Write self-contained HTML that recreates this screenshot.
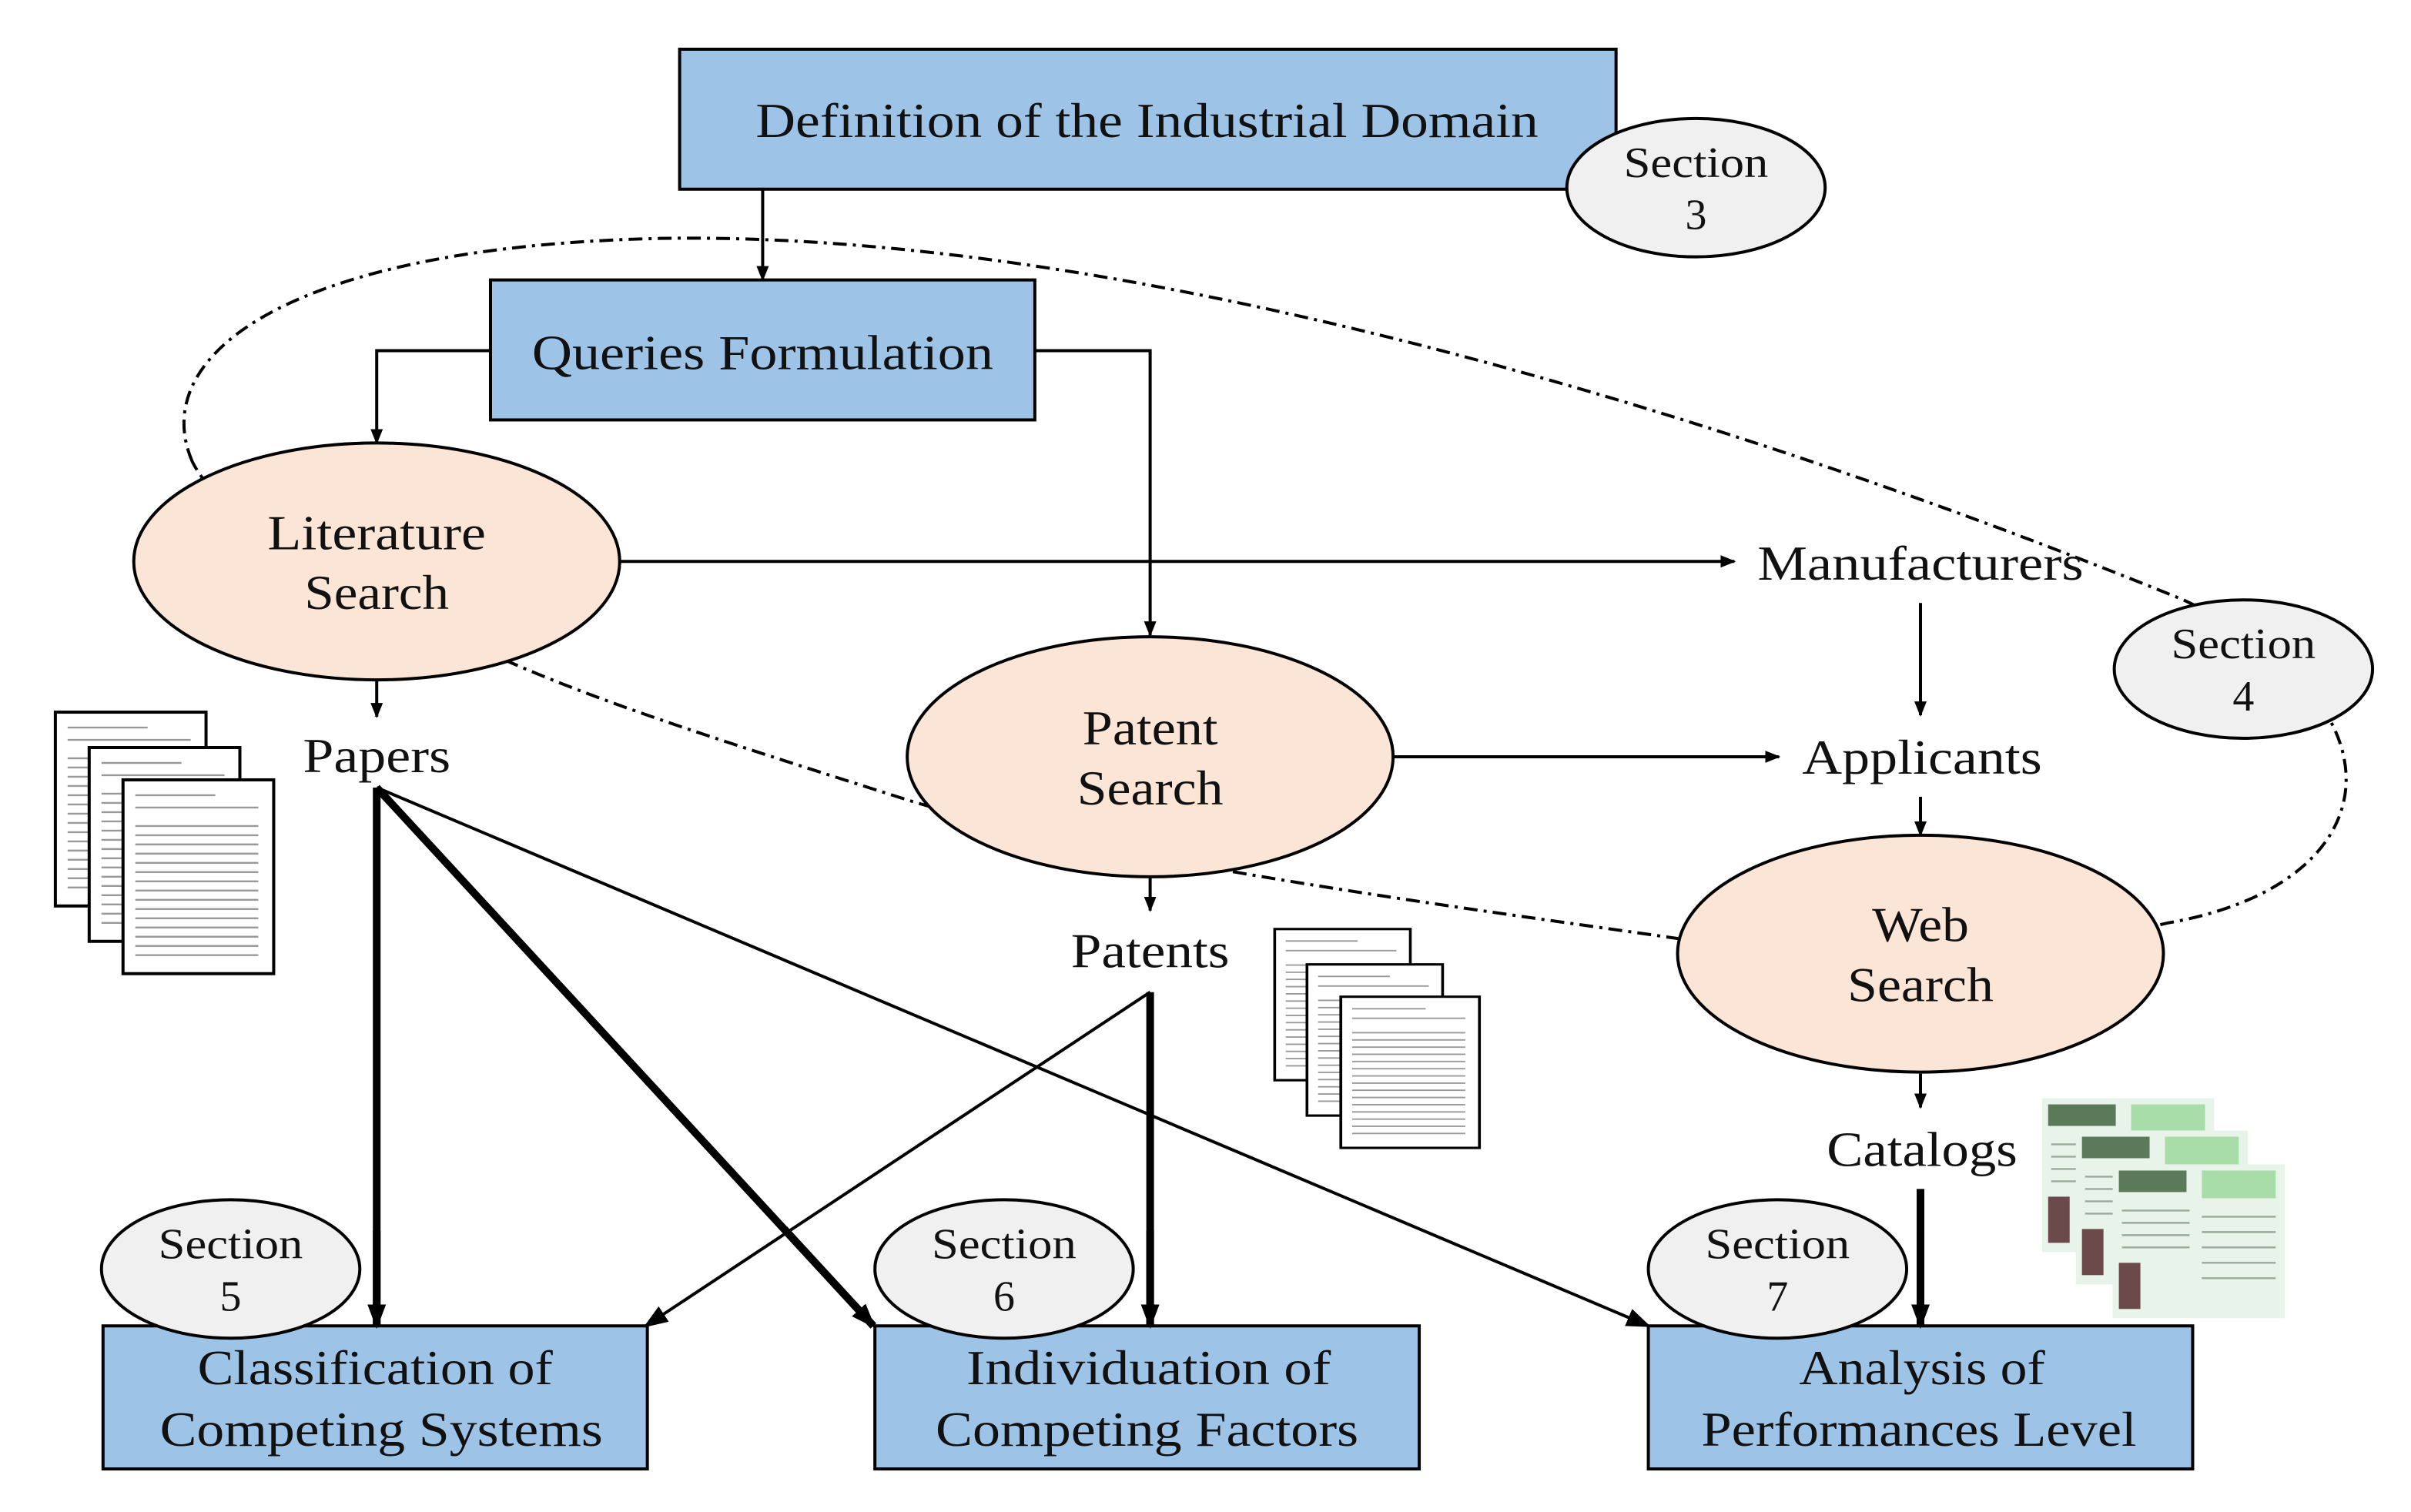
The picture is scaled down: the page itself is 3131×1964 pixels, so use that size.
<!DOCTYPE html>
<html><head><meta charset="utf-8"><style>html,body{margin:0;padding:0;background:#fff}svg{display:block}</style></head>
<body>
<svg width="3131" height="1964" viewBox="0 0 1568 983" preserveAspectRatio="none" xmlns="http://www.w3.org/2000/svg" font-family="'Liberation Serif', serif" fill="#111">
<defs>
<marker id="a" markerWidth="10" markerHeight="10" refX="9" refY="5" orient="auto" markerUnits="userSpaceOnUse" viewBox="0 0 10 10"><path d="M0,1 L10,5 L0,9 z" fill="#000"/></marker>
<marker id="b" markerWidth="16" markerHeight="16" refX="14" refY="8" orient="auto" markerUnits="userSpaceOnUse" viewBox="0 0 16 16"><path d="M0,2 L16,8 L0,14 z" fill="#000"/></marker>
<g id="page"><rect width="98" height="126" fill="#fff" stroke="#000" stroke-width="2"/><g stroke="#999" stroke-width="1.2"><line x1="8" y1="10" x2="60" y2="10"/><line x1="8" y1="18" x2="88" y2="18"/><line x1="8" y1="30" x2="88" y2="30"/><line x1="8" y1="36" x2="88" y2="36"/><line x1="8" y1="42" x2="88" y2="42"/><line x1="8" y1="48" x2="88" y2="48"/><line x1="8" y1="54" x2="88" y2="54"/><line x1="8" y1="60" x2="88" y2="60"/><line x1="8" y1="66" x2="88" y2="66"/><line x1="8" y1="72" x2="88" y2="72"/><line x1="8" y1="78" x2="88" y2="78"/><line x1="8" y1="84" x2="88" y2="84"/><line x1="8" y1="90" x2="88" y2="90"/><line x1="8" y1="96" x2="88" y2="96"/><line x1="8" y1="102" x2="88" y2="102"/><line x1="8" y1="108" x2="88" y2="108"/><line x1="8" y1="114" x2="88" y2="114"/></g></g>
<g id="cat"><rect width="112" height="100" fill="#e8f4ea"/><rect x="4" y="4" width="44" height="14" fill="#5a7a5a"/><rect x="58" y="4" width="48" height="18" fill="#a8dca8"/><g stroke="#9a9" stroke-width="1.2"><line x1="6" y1="30" x2="50" y2="30"/><line x1="6" y1="38" x2="50" y2="38"/><line x1="6" y1="46" x2="50" y2="46"/><line x1="6" y1="54" x2="50" y2="54"/><line x1="58" y1="34" x2="106" y2="34"/><line x1="58" y1="44" x2="106" y2="44"/><line x1="58" y1="54" x2="106" y2="54"/><line x1="58" y1="64" x2="106" y2="64"/><line x1="58" y1="74" x2="106" y2="74"/></g><rect x="4" y="64" width="14" height="30" fill="#6a4a4a"/></g>
</defs>

<path d="M125,300 C95,230 190,160 430,155 C720,150 1100,260 1420,390 C1570,460 1555,575 1410,600 C1300,625 1160,622 1090,610 C950,590 720,560 590,520 C480,485 400,460 335,432 C260,400 150,350 125,300 Z" fill="none" stroke="#000" stroke-width="2" stroke-dasharray="9,4,2,4"/>

<g font-size="32">
<rect x="442" y="32" width="609" height="91" fill="#9dc3e6" stroke="#000" stroke-width="2"/>
<text x="746" y="89" text-anchor="middle" textLength="509" lengthAdjust="spacingAndGlyphs">Definition of the Industrial Domain</text>
<ellipse cx="1103" cy="122" rx="84" ry="45" fill="#f0f0f0" stroke="#000" stroke-width="2"/>
<text x="1103" y="115" font-size="28" text-anchor="middle" textLength="94" lengthAdjust="spacingAndGlyphs">Section</text>
<text x="1103" y="149" font-size="28" text-anchor="middle">3</text>

<line x1="496" y1="123" x2="496" y2="182" stroke="#000" stroke-width="2" marker-end="url(#a)"/>
<rect x="319" y="182" width="354" height="91" fill="#9dc3e6" stroke="#000" stroke-width="2"/>
<text x="496" y="240" text-anchor="middle" textLength="300" lengthAdjust="spacingAndGlyphs">Queries Formulation</text>

<polyline points="319,228 245,228 245,288" fill="none" stroke="#000" stroke-width="2" marker-end="url(#a)"/>
<polyline points="673,228 748,228 748,413" fill="none" stroke="#000" stroke-width="2" marker-end="url(#a)"/>

<line x1="403" y1="365" x2="1128" y2="365" stroke="#000" stroke-width="2" marker-end="url(#a)"/>
<line x1="1249" y1="392" x2="1249" y2="465" stroke="#000" stroke-width="2" marker-end="url(#a)"/>
<line x1="906" y1="492" x2="1157" y2="492" stroke="#000" stroke-width="2" marker-end="url(#a)"/>
<line x1="1249" y1="518" x2="1249" y2="543" stroke="#000" stroke-width="2" marker-end="url(#a)"/>
<line x1="1249" y1="698" x2="1249" y2="720" stroke="#000" stroke-width="2" marker-end="url(#a)"/>
<line x1="245" y1="442" x2="245" y2="466" stroke="#000" stroke-width="2" marker-end="url(#a)"/>
<line x1="748" y1="570" x2="748" y2="592" stroke="#000" stroke-width="2" marker-end="url(#a)"/>

<line x1="1249" y1="773" x2="1249" y2="862" stroke="#000" stroke-width="5" marker-end="url(#b)"/>
<line x1="245" y1="512" x2="245" y2="862" stroke="#000" stroke-width="5" marker-end="url(#b)"/>
<line x1="245" y1="512" x2="568" y2="862" stroke="#000" stroke-width="5" marker-end="url(#b)"/>
<line x1="245" y1="512" x2="1072" y2="862" stroke="#000" stroke-width="2" marker-end="url(#b)"/>
<line x1="748" y1="645" x2="420" y2="862" stroke="#000" stroke-width="2" marker-end="url(#b)"/>
<line x1="748" y1="645" x2="748" y2="862" stroke="#000" stroke-width="5" marker-end="url(#b)"/>

<ellipse cx="245" cy="365" rx="158" ry="77" fill="#fbe5d6" stroke="#000" stroke-width="2"/>
<text x="245" y="357" text-anchor="middle" textLength="142" lengthAdjust="spacingAndGlyphs">Literature</text>
<text x="245" y="396" text-anchor="middle" textLength="94" lengthAdjust="spacingAndGlyphs">Search</text>
<ellipse cx="748" cy="492" rx="158" ry="78" fill="#fbe5d6" stroke="#000" stroke-width="2"/>
<text x="748" y="484" text-anchor="middle" textLength="88" lengthAdjust="spacingAndGlyphs">Patent</text>
<text x="748" y="523" text-anchor="middle" textLength="95" lengthAdjust="spacingAndGlyphs">Search</text>
<ellipse cx="1249" cy="620" rx="158" ry="77" fill="#fbe5d6" stroke="#000" stroke-width="2"/>
<text x="1249" y="612" text-anchor="middle" textLength="63" lengthAdjust="spacingAndGlyphs">Web</text>
<text x="1249" y="651" text-anchor="middle" textLength="95" lengthAdjust="spacingAndGlyphs">Search</text>

<ellipse cx="1459" cy="435" rx="84" ry="45" fill="#f0f0f0" stroke="#000" stroke-width="2"/>
<text x="1459" y="428" font-size="28" text-anchor="middle" textLength="94" lengthAdjust="spacingAndGlyphs">Section</text>
<text x="1459" y="462" font-size="28" text-anchor="middle">4</text>

<text x="1249" y="377" text-anchor="middle" textLength="212" lengthAdjust="spacingAndGlyphs">Manufacturers</text>
<text x="1250" y="503" text-anchor="middle" textLength="156" lengthAdjust="spacingAndGlyphs">Applicants</text>
<text x="1250" y="758" text-anchor="middle" textLength="124" lengthAdjust="spacingAndGlyphs">Catalogs</text>
<text x="245" y="502" text-anchor="middle" textLength="96" lengthAdjust="spacingAndGlyphs">Papers</text>
<text x="748" y="629" text-anchor="middle" textLength="103" lengthAdjust="spacingAndGlyphs">Patents</text>

<use href="#page" x="36" y="463"/>
<use href="#page" x="58" y="486"/>
<use href="#page" x="80" y="507"/>
<g transform="translate(829,604) scale(0.9,0.78)"><use href="#page"/></g>
<g transform="translate(850,627) scale(0.9,0.78)"><use href="#page"/></g>
<g transform="translate(872,648) scale(0.92,0.78)"><use href="#page"/></g>
<use href="#cat" x="1328" y="714"/>
<use href="#cat" x="1350" y="735"/>
<use href="#cat" x="1374" y="757"/>

<rect x="67" y="862" width="354" height="93" fill="#9dc3e6" stroke="#000" stroke-width="2"/>
<text x="244" y="900" text-anchor="middle" textLength="231" lengthAdjust="spacingAndGlyphs">Classification of</text>
<text x="248" y="940" text-anchor="middle" textLength="288" lengthAdjust="spacingAndGlyphs">Competing Systems</text>
<rect x="569" y="862" width="354" height="93" fill="#9dc3e6" stroke="#000" stroke-width="2"/>
<text x="747" y="900" text-anchor="middle" textLength="237" lengthAdjust="spacingAndGlyphs">Individuation of</text>
<text x="746" y="940" text-anchor="middle" textLength="275" lengthAdjust="spacingAndGlyphs">Competing Factors</text>
<rect x="1072" y="862" width="354" height="93" fill="#9dc3e6" stroke="#000" stroke-width="2"/>
<text x="1250" y="900" text-anchor="middle" textLength="160" lengthAdjust="spacingAndGlyphs">Analysis of</text>
<text x="1248" y="940" text-anchor="middle" textLength="283" lengthAdjust="spacingAndGlyphs">Performances Level</text>

<ellipse cx="150" cy="825" rx="84" ry="45" fill="#f0f0f0" stroke="#000" stroke-width="2"/>
<text x="150" y="818" font-size="28" text-anchor="middle" textLength="94" lengthAdjust="spacingAndGlyphs">Section</text>
<text x="150" y="852" font-size="28" text-anchor="middle">5</text>
<ellipse cx="653" cy="825" rx="84" ry="45" fill="#f0f0f0" stroke="#000" stroke-width="2"/>
<text x="653" y="818" font-size="28" text-anchor="middle" textLength="94" lengthAdjust="spacingAndGlyphs">Section</text>
<text x="653" y="852" font-size="28" text-anchor="middle">6</text>
<ellipse cx="1156" cy="825" rx="84" ry="45" fill="#f0f0f0" stroke="#000" stroke-width="2"/>
<text x="1156" y="818" font-size="28" text-anchor="middle" textLength="94" lengthAdjust="spacingAndGlyphs">Section</text>
<text x="1156" y="852" font-size="28" text-anchor="middle">7</text>
</g>

<line x1="245" y1="800" x2="245" y2="862" stroke="#000" stroke-width="5" marker-end="url(#b)"/>
<line x1="748" y1="800" x2="748" y2="862" stroke="#000" stroke-width="5" marker-end="url(#b)"/>
<line x1="1249" y1="800" x2="1249" y2="862" stroke="#000" stroke-width="5" marker-end="url(#b)"/>
<line x1="510" y1="799" x2="568" y2="862" stroke="#000" stroke-width="5" marker-end="url(#b)"/>
</svg>
</body></html>
